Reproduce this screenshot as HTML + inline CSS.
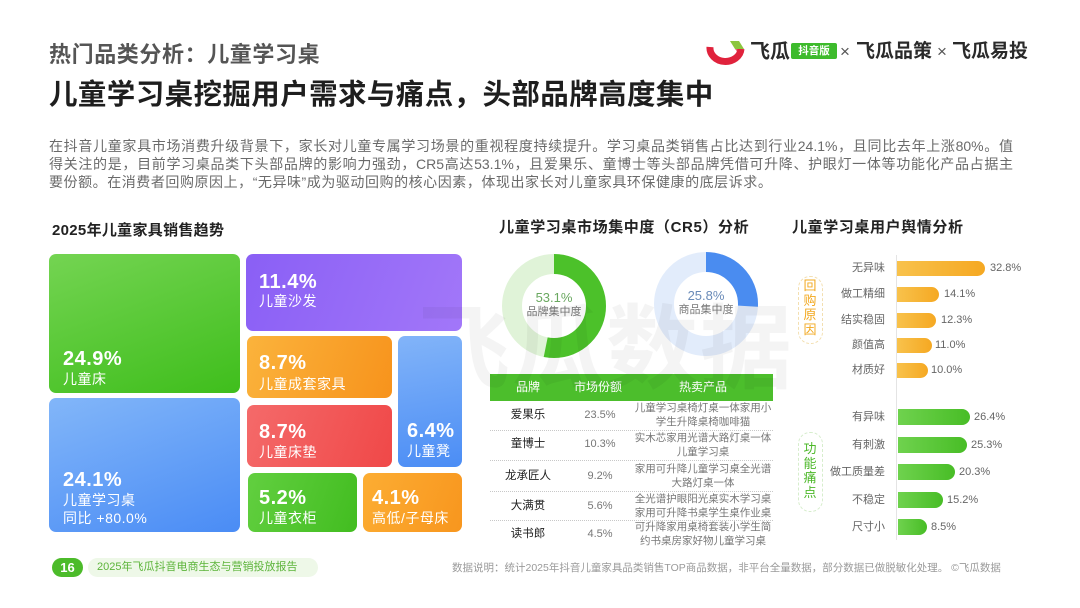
<!DOCTYPE html>
<html><head><meta charset="utf-8">
<style>
*{margin:0;padding:0;box-sizing:border-box}
body{width:1080px;height:608px;background:#fff;position:relative;overflow:hidden;font-family:"Liberation Sans","Noto Sans CJK SC",sans-serif;color:#333}
.a{position:absolute;white-space:nowrap}
.tile{position:absolute;border-radius:7px;color:#fff;overflow:hidden}
.tile .p{position:absolute;font-weight:bold;font-size:20px;letter-spacing:0.5px;line-height:22px}
.tile .l{position:absolute;font-size:14px;line-height:18px;letter-spacing:0.5px}
.para{position:absolute;left:49px;width:964px;font-size:14px;color:#6a6a6a;line-height:18px;white-space:nowrap}
.j{text-align:justify;text-align-last:justify;white-space:normal}
.lab{position:absolute;font-size:11px;color:#666;text-align:right;width:90px;line-height:14px}
.val{position:absolute;font-size:11px;color:#666;line-height:14px}
.bo{position:absolute;left:897px;height:15px;border-radius:0 8px 8px 0;background:linear-gradient(90deg,#f8c24c,#f5a822)}
.bg{position:absolute;left:898px;height:16px;border-radius:0 8px 8px 0;background:linear-gradient(90deg,#6fd24e,#48bd26)}
.td{position:absolute;font-size:11px;color:#777;text-align:center;line-height:14px}
.sep{position:absolute;left:490px;width:283px;border-top:1px dotted #c8c8c8;height:0}
</style></head><body>

<!-- watermark -->
<div class="a" style="left:418px;top:300px;font-size:92px;font-weight:bold;color:rgba(0,0,0,0.045);letter-spacing:2px;line-height:100px;z-index:5">飞瓜数据</div>

<!-- header -->
<div class="a" style="left:49px;top:43px;font-size:22px;font-weight:bold;color:#555;letter-spacing:0.6px;line-height:24px">热门品类分析：儿童学习桌</div>
<div class="a" style="left:49px;top:79px;font-size:28.5px;font-weight:bold;color:#1e1e1e;letter-spacing:0.4px;line-height:32px">儿童学习桌挖掘用户需求与痛点，头部品牌高度集中</div>

<!-- logo -->
<svg class="a" style="left:706px;top:38px" width="40" height="28" viewBox="0 0 40 28">
 <path d="M4 9 A15 13 0 0 0 35 11" fill="none" stroke="#e0223c" stroke-width="7" stroke-linecap="butt"/>
 <path d="M24 3 L33 3 L38 11 L29 11 Z" fill="#8cc63f"/>
 <path d="M29 11 L38 11 L33 16 Z" fill="#e0223c" opacity="0.7"/>
</svg>
<div class="a" style="left:750px;top:40px;font-size:20px;font-weight:bold;color:#2a2a2a;line-height:24px">飞瓜</div>
<div class="a" style="left:791px;top:43px;width:46px;height:16px;background:#3dbb2c;border-radius:2px;color:#fff;font-size:10.5px;font-weight:bold;text-align:center;line-height:16px">抖音版</div>
<div class="a" style="left:840px;top:40px;font-size:17px;color:#555;line-height:24px">×</div>
<div class="a" style="left:856px;top:40px;font-size:19px;font-weight:bold;color:#2a2a2a;line-height:24px">飞瓜品策</div>
<div class="a" style="left:937px;top:40px;font-size:17px;color:#555;line-height:24px">×</div>
<div class="a" style="left:952px;top:40px;font-size:19px;font-weight:bold;color:#2a2a2a;line-height:24px">飞瓜易投</div>

<!-- paragraph -->
<div class="para j" style="top:137px">在抖音儿童家具市场消费升级背景下，家长对儿童专属学习场景的重视程度持续提升。学习桌品类销售占比达到行业24.1%，且同比去年上涨80%。值</div>
<div class="para j" style="top:155px">得关注的是，目前学习桌品类下头部品牌的影响力强劲，CR5高达53.1%，且爱果乐、童博士等头部品牌凭借可升降、护眼灯一体等功能化产品占据主</div>
<div class="para" style="top:173px;letter-spacing:0.55px">要份额。在消费者回购原因上，“无异味”成为驱动回购的核心因素，体现出家长对儿童家具环保健康的底层诉求。</div>

<!-- treemap -->
<div class="a" style="left:52px;top:222px;font-size:15px;font-weight:bold;color:#222;letter-spacing:0.3px;line-height:18px">2025年儿童家具销售趋势</div>

<div class="tile" style="left:49px;top:254px;width:191px;height:139px;background:linear-gradient(160deg,#74d452,#3fbe1c)">
 <div class="p" style="left:14px;top:94px">24.9%</div><div class="l" style="left:14px;top:116px">儿童床</div></div>
<div class="tile" style="left:49px;top:398px;width:191px;height:134px;background:linear-gradient(160deg,#82b6f9,#4a8cf5)">
 <div class="p" style="left:14px;top:71px">24.1%</div><div class="l" style="left:14px;top:93px">儿童学习桌</div><div class="l" style="left:14px;top:111px">同比 +80.0%</div></div>
<div class="tile" style="left:246px;top:254px;width:216px;height:77px;background:linear-gradient(110deg,#8a5ff5,#a277f9)">
 <div class="p" style="left:13px;top:17px">11.4%</div><div class="l" style="left:13px;top:38px">儿童沙发</div></div>
<div class="tile" style="left:247px;top:336px;width:145px;height:62px;background:linear-gradient(110deg,#fbb33c,#f7931c)">
 <div class="p" style="left:12px;top:16px">8.7%</div><div class="l" style="left:12px;top:39px">儿童成套家具</div></div>
<div class="tile" style="left:398px;top:336px;width:64px;height:131px;background:linear-gradient(170deg,#82b4f9,#4b8df5)">
 <div class="p" style="left:9px;top:84px">6.4%</div><div class="l" style="left:9px;top:106px">儿童凳</div></div>
<div class="tile" style="left:247px;top:405px;width:145px;height:62px;background:linear-gradient(110deg,#f46a6a,#f04848)">
 <div class="p" style="left:12px;top:16px">8.7%</div><div class="l" style="left:12px;top:38px">儿童床垫</div></div>
<div class="tile" style="left:248px;top:473px;width:109px;height:59px;background:linear-gradient(110deg,#62cf40,#42bd20)">
 <div class="p" style="left:11px;top:14px">5.2%</div><div class="l" style="left:11px;top:36px">儿童衣柜</div></div>
<div class="tile" style="left:363px;top:473px;width:99px;height:59px;background:linear-gradient(110deg,#fcad33,#f8961e)">
 <div class="p" style="left:9px;top:14px">4.1%</div><div class="l" style="left:9px;top:36px">高低/子母床</div></div>

<!-- CR5 -->
<div class="a" style="left:499px;top:219px;font-size:15px;font-weight:bold;color:#222;letter-spacing:0.6px;line-height:18px">儿童学习桌市场集中度（CR5）分析</div>

<svg class="a" style="left:490px;top:245px" width="290" height="125">
 <circle cx="64" cy="61" r="42" fill="none" stroke="#e0f3d8" stroke-width="20"/>
 <circle cx="64" cy="61" r="42" fill="none" stroke="#4cc12a" stroke-width="20" stroke-dasharray="140.1 400" transform="rotate(-90 64 61)"/>
 <circle cx="216" cy="59" r="42" fill="none" stroke="#e2ecfb" stroke-width="20"/>
 <circle cx="216" cy="59" r="42" fill="none" stroke="#4a8cf0" stroke-width="20" stroke-dasharray="68.1 400" transform="rotate(-90 216 59)"/>
</svg>
<div class="a" style="left:514px;top:290px;width:80px;text-align:center;font-size:13px;color:#6aa860;line-height:15px">53.1%</div>
<div class="a" style="left:514px;top:306px;width:80px;text-align:center;font-size:11px;color:#777;line-height:13px">品牌集中度</div>
<div class="a" style="left:666px;top:288px;width:80px;text-align:center;font-size:13px;color:#6a8bb8;line-height:15px">25.8%</div>
<div class="a" style="left:666px;top:304px;width:80px;text-align:center;font-size:11px;color:#777;line-height:13px">商品集中度</div>

<!-- table -->
<div class="a" style="left:490px;top:374px;width:283px;height:27px;background:#4cbe2c"></div>
<div class="a" style="left:498px;top:380px;width:60px;text-align:center;color:#fff;font-size:12px;line-height:15px">品牌</div>
<div class="a" style="left:568px;top:380px;width:60px;text-align:center;color:#fff;font-size:12px;line-height:15px">市场份额</div>
<div class="a" style="left:653px;top:380px;width:100px;text-align:center;color:#fff;font-size:12px;line-height:15px">热卖产品</div>

<div class="td" style="left:498px;top:408px;width:60px;color:#222;font-size:11.5px">爱果乐</div>
<div class="td" style="left:570px;top:408px;width:60px">23.5%</div>
<div class="td" style="left:633px;top:401px;width:140px;font-size:10.5px">儿童学习桌椅灯桌一体家用小<br>学生升降桌椅咖啡猫</div>
<div class="sep" style="top:430px"></div>
<div class="td" style="left:498px;top:437px;width:60px;color:#222;font-size:11.5px">童博士</div>
<div class="td" style="left:570px;top:437px;width:60px">10.3%</div>
<div class="td" style="left:633px;top:431px;width:140px;font-size:10.5px">实木芯家用光谱大路灯桌一体<br>儿童学习桌</div>
<div class="sep" style="top:460px"></div>
<div class="td" style="left:498px;top:469px;width:60px;color:#222;font-size:11.5px">龙承匠人</div>
<div class="td" style="left:570px;top:469px;width:60px">9.2%</div>
<div class="td" style="left:633px;top:462px;width:140px;font-size:10.5px">家用可升降儿童学习桌全光谱<br>大路灯桌一体</div>
<div class="sep" style="top:491px"></div>
<div class="td" style="left:498px;top:499px;width:60px;color:#222;font-size:11.5px">大满贯</div>
<div class="td" style="left:570px;top:499px;width:60px">5.6%</div>
<div class="td" style="left:633px;top:492px;width:140px;font-size:10.5px">全光谱护眼阳光桌实木学习桌<br>家用可升降书桌学生桌作业桌</div>
<div class="sep" style="top:520px"></div>
<div class="td" style="left:498px;top:527px;width:60px;color:#222;font-size:11.5px">读书郎</div>
<div class="td" style="left:570px;top:527px;width:60px">4.5%</div>
<div class="td" style="left:633px;top:520px;width:140px;font-size:10.5px">可升降家用桌椅套装小学生简<br>约书桌房家好物儿童学习桌</div>

<!-- sentiment -->
<div class="a" style="left:792px;top:219px;font-size:15px;font-weight:bold;color:#222;letter-spacing:0.6px;line-height:18px">儿童学习桌用户舆情分析</div>
<div class="a" style="left:896px;top:255px;width:1px;height:285px;background:#e4e4e4"></div>

<div class="a" style="left:798px;top:276px;width:25px;height:68px;border:1px dashed #f3dfb0;border-radius:12px"></div>
<div class="a" style="left:802px;top:279px;width:16px;font-size:13px;color:#f2a81f;line-height:14.5px;white-space:normal;text-align:center">回<br>购<br>原<br>因</div>

<div class="lab" style="left:795px;top:261px">无异味</div><div class="bo" style="top:261px;width:88px"></div><div class="val" style="left:990px;top:261px">32.8%</div>
<div class="lab" style="left:795px;top:287px">做工精细</div><div class="bo" style="top:287px;width:42px"></div><div class="val" style="left:944px;top:287px">14.1%</div>
<div class="lab" style="left:795px;top:313px">结实稳固</div><div class="bo" style="top:313px;width:39px"></div><div class="val" style="left:941px;top:313px">12.3%</div>
<div class="lab" style="left:795px;top:338px">颜值高</div><div class="bo" style="top:338px;width:35px"></div><div class="val" style="left:935px;top:338px">11.0%</div>
<div class="lab" style="left:795px;top:363px">材质好</div><div class="bo" style="top:363px;width:31px"></div><div class="val" style="left:931px;top:363px">10.0%</div>

<div class="a" style="left:798px;top:432px;width:25px;height:80px;border:1px dashed #d6edcc;border-radius:12px"></div>
<div class="a" style="left:802px;top:442px;width:16px;font-size:13px;color:#4db82a;line-height:14.5px;white-space:normal;text-align:center">功<br>能<br>痛<br>点</div>

<div class="lab" style="left:795px;top:410px">有异味</div><div class="bg" style="top:409px;width:72px"></div><div class="val" style="left:974px;top:410px">26.4%</div>
<div class="lab" style="left:795px;top:438px">有刺激</div><div class="bg" style="top:437px;width:69px"></div><div class="val" style="left:971px;top:438px">25.3%</div>
<div class="lab" style="left:795px;top:465px">做工质量差</div><div class="bg" style="top:464px;width:57px"></div><div class="val" style="left:959px;top:465px">20.3%</div>
<div class="lab" style="left:795px;top:493px">不稳定</div><div class="bg" style="top:492px;width:45px"></div><div class="val" style="left:947px;top:493px">15.2%</div>
<div class="lab" style="left:795px;top:520px">尺寸小</div><div class="bg" style="top:519px;width:29px"></div><div class="val" style="left:931px;top:520px">8.5%</div>

<!-- footer -->
<div class="a" style="left:88px;top:558px;width:230px;height:19px;background:#eef8e8;border-radius:10px"></div>
<div class="a" style="left:52px;top:558px;width:31px;height:19px;background:#4cbb2a;border-radius:10px;color:#fff;font-weight:bold;font-size:13px;text-align:center;line-height:19px">16</div>
<div class="a" style="left:97px;top:561px;font-size:11px;color:#5cb43a;line-height:13px">2025年飞瓜抖音电商生态与营销投放报告</div>
<div class="a" style="left:452px;top:562px;font-size:10.5px;color:#9a9a9a;line-height:13px">数据说明：统计2025年抖音儿童家具品类销售TOP商品数据，非平台全量数据，部分数据已做脱敏化处理。 ©飞瓜数据</div>

</body></html>
